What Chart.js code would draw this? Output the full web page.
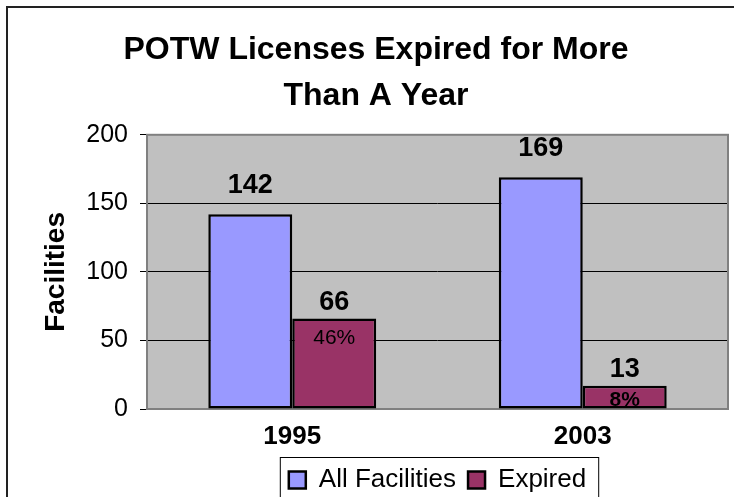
<!DOCTYPE html>
<html>
<head>
<meta charset="utf-8">
<title>POTW Licenses Expired for More Than A Year</title>
<script src="https://cdn.jsdelivr.net/npm/chart.js@4.4.0/dist/chart.umd.min.js"></script>
<style>
  html, body { margin: 0; padding: 0; background: #fff; overflow: hidden; }
  #wrap { position: absolute; left: 0; top: 0; width: 752px; height: 520px; }
</style>
</head>
<body>
<div id="wrap"><canvas id="potwChart" width="752" height="520"></canvas></div>
<script>
// --------------------- DATA ---------------------
const years = ["1995", "2003"];
const allFacilities = [142, 169];
const expired = [66, 17];            // bar heights as drawn
const expiredLabels = ["66", "13"];  // numbers printed over the bars
const expiredPercent = ["46%", "8%"];
const yTicks = [0, 50, 100, 150, 200];

const FONT = "'Liberation Sans', Arial, sans-serif";

// --------------------- PLUGINS ---------------------
// gray plot area, its border, the outer chart frame and the legend box
const chartFrame = {
  id: "chartFrame",
  beforeDraw(chart) {
    const { ctx, chartArea: a } = chart;
    ctx.save();
    ctx.fillStyle = "#fff";
    ctx.fillRect(0, 0, chart.width, chart.height);
    ctx.fillStyle = "#c0c0c0";
    ctx.fillRect(a.left, a.top, a.right - a.left, a.bottom - a.top);
    ctx.restore();
  },
  beforeDatasetsDraw(chart) {
    const { ctx, chartArea: a } = chart;
    ctx.save();
    ctx.strokeStyle = "#808080";
    ctx.lineWidth = 2;
    ctx.strokeRect(a.left, a.top, a.right - a.left, a.bottom - a.top);
    ctx.restore();
  },
  afterDraw(chart) {
    const { ctx } = chart;
    ctx.save();
    ctx.strokeStyle = "#222";
    ctx.lineWidth = 2;
    ctx.strokeRect(7, 7, chart.width - 14, chart.height - 14);

    const boxes = chart.legend.legendHitBoxes;
    if (boxes && boxes.length) {
      const first = boxes[0];
      const last = boxes[boxes.length - 1];
      const left = first.left - 9;
      const right = last.left + last.width + 12;
      const top = first.top - 10;
      ctx.strokeStyle = "#000";
      ctx.lineWidth = 1;
      ctx.strokeRect(left + 0.5, top + 0.5, right - left, 60);
    }
    ctx.restore();
  }
};

// value labels above the bars, percentages inside the expired bars
const barLabels = {
  id: "barLabels",
  afterDatasetsDraw(chart) {
    const { ctx } = chart;
    const blueBars = chart.getDatasetMeta(0).data;
    const redBars = chart.getDatasetMeta(1).data;
    ctx.save();
    ctx.fillStyle = "#000";
    ctx.textAlign = "center";
    ctx.textBaseline = "alphabetic";

    ctx.font = "bold 27px " + FONT;
    blueBars.forEach((bar, i) => {
      ctx.fillText(String(allFacilities[i]), bar.x, bar.y - 21);
    });

    redBars.forEach((bar, i) => {
      ctx.font = "bold 27px " + FONT;
      ctx.fillText(expiredLabels[i], bar.x, bar.y - 9);
      ctx.font = (i === 0 ? "" : "bold ") + "21px " + FONT;
      ctx.fillText(expiredPercent[i], bar.x, Math.min(bar.y + 25, bar.base - 3));
    });
    ctx.restore();
  }
};

// --------------------- CHART ---------------------
const ctx = document.getElementById("potwChart").getContext("2d");
new Chart(ctx, {
  type: "bar",
  data: {
    labels: years,
    datasets: [
      {
        label: "All Facilities",
        data: allFacilities,
        backgroundColor: "#9999ff",
        borderColor: "#000",
        borderWidth: 2.5,
        borderSkipped: false,
        categoryPercentage: 0.578,
        barPercentage: 1.0,
      },
      {
        label: "Expired",
        data: expired,
        backgroundColor: "#993366",
        borderColor: "#000",
        borderWidth: 2.5,
        borderSkipped: false,
        categoryPercentage: 0.578,
        barPercentage: 1.0,
      },
    ],
  },
  options: {
    responsive: false,
    devicePixelRatio: 1,
    animation: false,
    layout: { padding: { top: 7, left: 24, right: 24, bottom: 17 } },
    plugins: {
      title: {
        display: true,
        text: ["POTW Licenses Expired for More", "Than A Year"],
        color: "#000",
        font: { family: FONT, size: 32, weight: "bold", lineHeight: 1.45 },
        padding: { top: 20, bottom: 15 },
      },
      legend: {
        position: "bottom",
        fullSize: false,
        labels: {
          color: "#000",
          font: { family: FONT, size: 26 },
          boxWidth: 17,
          boxHeight: 17,
          padding: 12,
        },
      },
      tooltip: { enabled: false },
    },
    scales: {
      x: {
        grid: { display: false, drawTicks: false },
        border: { display: false },
        ticks: {
          color: "#000",
          padding: 12,
          font: { family: FONT, size: 26, weight: "bold" },
        },
        afterFit: (scale) => { scale.height = 46; },
      },
      y: {
        min: 0,
        max: 200,
        afterBuildTicks: (scale) => { scale.ticks = yTicks.map((v) => ({ value: v })); },
        grid: {
          color: (c) => (c.tick && c.tick.value === 200 ? "rgba(0,0,0,0)" : "#000"),
          tickColor: "#000",
          tickLength: 7,
          lineWidth: 1,
        },
        border: { display: false },
        ticks: {
          color: "#000",
          padding: 12,
          font: { family: FONT, size: 25 },
        },
        title: {
          display: true,
          text: "Facilities",
          color: "#000",
          font: { family: FONT, size: 28, weight: "bold" },
          padding: { top: 15, bottom: 0 },
        },
        afterFit: (scale) => { scale.width = 123; },
      },
    },
  },
  plugins: [chartFrame, barLabels],
});
</script>
</body>
</html>
